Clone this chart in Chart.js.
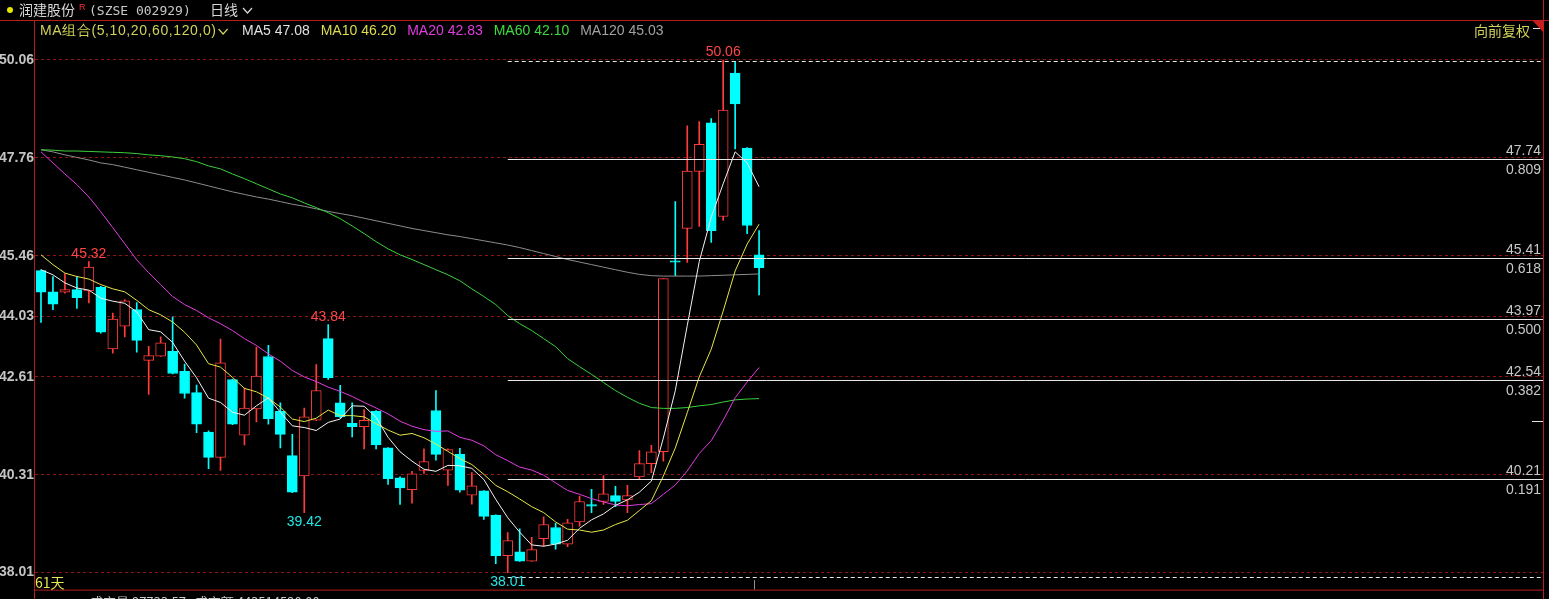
<!DOCTYPE html>
<html>
<head>
<meta charset="utf-8">
<script src="https://cdn.jsdelivr.net/npm/chart.js@4.4.0/dist/chart.umd.min.js"></script>
<style>
  html, body { margin: 0; padding: 0; background: #000; overflow: hidden; }
  canvas { display: block; }
</style>
</head>
<body>
<canvas id="kline" width="1549" height="599"></canvas>
<script>
'use strict';

/* ── Data ────────────────────────────────────────────── */
const SLOTS = 126;   // visible day slots on the x axis

const OPEN  = [45.11,44.61,44.60,44.66,44.63,44.72,43.27,43.80,44.19,43.00,
               43.10,43.21,42.74,42.24,41.31,40.72,42.55,41.24,41.86,43.09,
               41.80,40.76,40.28,41.59,43.51,42.00,41.52,41.44,41.80,40.94,
               40.24,39.96,40.41,41.82,40.42,40.79,39.83,39.93,39.36,38.41,
               38.50,38.28,38.81,39.07,38.68,39.20,39.61,39.68,39.82,39.72,
               40.26,40.57,40.85,45.34,46.10,47.44,48.58,46.38,49.75,47.99,45.48];
const HIGH  = [45.13,44.97,45.04,44.97,45.32,44.74,44.11,44.43,44.36,43.33,
               43.55,44.02,42.91,42.42,41.34,43.50,42.56,42.35,43.31,43.35,
               42.00,41.26,41.88,42.90,43.84,42.41,42.00,41.84,41.82,40.95,
               40.26,40.39,40.92,42.29,40.92,40.93,40.36,39.94,39.37,38.95,
               39.04,38.84,39.32,39.17,39.26,39.81,39.97,40.29,40.04,40.06,
               40.88,41.00,44.92,46.73,48.51,48.61,48.68,50.06,50.02,48.00,46.05];
const LOW   = [43.89,44.19,44.58,44.22,44.35,43.64,43.17,43.55,43.19,42.20,
               43.09,42.68,42.11,41.30,40.45,40.41,41.49,41.01,41.55,41.50,
               40.94,39.89,39.42,41.58,42.55,41.65,41.20,40.92,40.92,40.08,
               39.61,39.64,40.34,40.65,40.06,39.90,39.62,39.26,38.22,38.01,
               38.27,38.27,38.63,38.56,38.62,39.10,39.42,39.61,39.56,39.42,
               40.20,40.36,40.63,44.99,45.30,46.15,45.77,46.29,47.97,45.98,44.54];
const CLOSE = [44.60,44.32,44.66,44.47,45.19,43.66,43.97,44.40,43.47,43.11,
               43.41,42.69,42.22,41.50,40.72,42.94,41.50,41.88,42.63,41.63,
               41.26,39.90,41.67,42.29,42.59,41.67,41.44,41.59,41.01,40.22,
               40.00,40.33,40.62,40.79,40.90,39.95,40.05,39.33,38.40,38.76,
               38.28,38.55,39.14,38.68,39.18,39.68,39.57,39.86,39.68,39.82,
               40.57,40.85,44.92,45.31,47.45,48.08,46.05,48.88,49.03,46.17,45.18];

const MA5   = [45.13,45.01,44.82,44.70,44.65,44.46,44.39,44.34,44.14,43.72,
               43.67,43.42,42.98,42.59,42.11,42.01,41.78,41.71,41.93,42.12,
               41.78,41.46,41.42,41.35,41.54,41.62,41.93,41.92,41.66,41.19,
               40.85,40.63,40.44,40.39,40.53,40.52,40.46,40.20,39.73,39.30,
               38.96,38.66,38.63,38.68,38.77,39.05,39.25,39.39,39.59,39.72,
               39.90,40.16,41.17,42.29,43.82,45.32,46.36,47.15,47.90,47.64,47.08];
const MA10  = [45.48,45.25,45.05,44.97,44.91,44.78,44.68,44.61,44.41,44.19,
               44.07,43.90,43.66,43.36,42.92,42.84,42.60,42.34,42.26,42.11,
               41.90,41.62,41.56,41.64,41.83,41.70,41.70,41.67,41.51,41.36,
               41.24,41.28,41.18,41.03,40.86,40.69,40.55,40.32,40.06,39.91,
               39.74,39.56,39.42,39.20,39.03,39.01,38.96,39.01,39.14,39.24,
               39.47,39.70,40.28,40.94,41.77,42.61,43.26,44.16,45.10,45.73,46.20];
const MA20  = [47.90,47.64,47.38,47.13,46.84,46.49,46.12,45.74,45.36,45.06,
               44.78,44.50,44.31,44.17,44.00,43.86,43.70,43.51,43.35,43.15,
               42.98,42.76,42.61,42.50,42.37,42.27,42.15,42.01,41.88,41.74,
               41.57,41.45,41.37,41.33,41.34,41.19,41.12,40.99,40.78,40.64,
               40.49,40.42,40.30,40.12,39.94,39.85,39.75,39.67,39.60,39.58,
               39.61,39.63,39.85,40.07,40.40,40.81,41.11,41.59,42.12,42.49,42.83];
const MA60  = [47.95,47.94,47.92,47.92,47.91,47.90,47.89,47.88,47.86,47.83,
               47.81,47.78,47.74,47.67,47.57,47.50,47.38,47.27,47.15,47.03,
               46.91,46.82,46.70,46.59,46.47,46.33,46.16,45.98,45.79,45.62,
               45.48,45.37,45.25,45.13,45.01,44.87,44.68,44.50,44.31,44.05,
               43.86,43.70,43.51,43.32,43.04,42.85,42.67,42.48,42.29,42.13,
               41.99,41.89,41.87,41.87,41.89,41.93,41.96,42.02,42.07,42.09,42.10];
const MA120 = [47.95,47.90,47.83,47.77,47.71,47.64,47.60,47.54,47.48,47.42,
               47.36,47.30,47.24,47.17,47.10,47.03,46.96,46.90,46.84,46.79,
               46.73,46.67,46.62,46.56,46.50,46.45,46.40,46.34,46.28,46.22,
               46.16,46.10,46.05,46.00,45.95,45.91,45.86,45.81,45.76,45.71,
               45.65,45.58,45.51,45.44,45.37,45.31,45.25,45.19,45.13,45.07,
               45.02,44.99,44.98,44.98,44.98,44.98,44.99,45.00,45.01,45.02,45.03];

const MA_NAMES   = ['MA5', 'MA10', 'MA20', 'MA60', 'MA120'];
const MA_LEGEND  = ['47.08', '46.20', '42.83', '42.10', '45.03'];
const Y_TICKS    = [50.06, 47.76, 45.46, 44.03, 42.61, 40.31, 38.01];
const FIB_PRICE  = [47.74, 45.41, 43.97, 42.54, 40.21];
const FIB_RATIO  = ['0.809', '0.618', '0.500', '0.382', '0.191'];
const FIB_ENDS   = [50.06, 38.01];
const FIB_FROM   = 39;                       // day of the low the tool starts from
const PEAKS      = [[4, 45.32], [24, 43.84], [57, 50.06]];
const TROUGHS    = [[22, 39.42], [39, 38.01]];

/* ── Style ───────────────────────────────────────────── */
const UP = '#ff3b3b', DOWN = '#00ffff';
const MA_COLORS = ['#f2f2f2', '#e6e64c', '#e23ce2', '#3ad23a', '#8c8c8c'];
const LEG_COLORS = ['#e0e0e0', '#dcdc50', '#e03ce0', '#3cdc3c', '#a0a0a0'];
const FRAME = '#b41e1e';
const SANS = '"Liberation Sans", Arial, sans-serif';
const CJK = '"Noto Sans CJK SC", "Noto Sans", sans-serif';

const labels = Array.from({ length: SLOTS }, (_, i) => String(i));
const candleColor = CLOSE.map((c, i) => (c >= OPEN[i] ? UP : DOWN));

/* ── Decorations drawn through the chart's scales ────── */
const decor = {
  id: 'decor',
  beforeDraw(chart) {
    const { ctx, width, height } = chart;
    ctx.save();
    ctx.fillStyle = '#000';
    ctx.fillRect(0, 0, width, height);
    ctx.restore();
  },
  afterDraw(chart) {
    const { ctx, chartArea: a, scales: { x, y } } = chart;
    ctx.save();

    // fibonacci tool
    const x0 = x.getPixelForValue(FIB_FROM);
    ctx.strokeStyle = '#e8e8e8';
    ctx.lineWidth = 1;
    FIB_PRICE.forEach(p => {
      const py = Math.round(y.getPixelForValue(p)) + 0.5;
      ctx.beginPath(); ctx.moveTo(x0, py); ctx.lineTo(a.right, py); ctx.stroke();
    });
    ctx.setLineDash([4, 3]);
    FIB_ENDS.forEach((p, k) => {
      const py = Math.round(y.getPixelForValue(p)) + (k ? 4.5 : 1.5);
      ctx.beginPath(); ctx.moveTo(x0, py); ctx.lineTo(a.right, py); ctx.stroke();
    });
    ctx.setLineDash([]);

    ctx.font = '14px ' + SANS;
    ctx.fillStyle = '#c8c8c8';
    ctx.textAlign = 'right';
    FIB_PRICE.forEach((p, k) => {
      const py = Math.round(y.getPixelForValue(p));
      ctx.textBaseline = 'alphabetic';
      ctx.fillText(p.toFixed(2), a.right - 2, py - 4);
      ctx.fillText(FIB_RATIO[k], a.right - 2, py + 15);
    });

    // extreme price labels
    ctx.textAlign = 'center';
    ctx.fillStyle = '#ff4646';
    ctx.textBaseline = 'alphabetic';
    PEAKS.forEach(([i, v]) => {
      ctx.fillText(v.toFixed(2), x.getPixelForValue(i), y.getPixelForValue(v) - 4);
    });
    ctx.fillStyle = '#22e6e6';
    ctx.textBaseline = 'top';
    TROUGHS.forEach(([i, v]) => {
      ctx.fillText(v.toFixed(2), x.getPixelForValue(i), y.getPixelForValue(v) + 3);
    });

    // frame
    ctx.strokeStyle = FRAME;
    ctx.beginPath();
    ctx.moveTo(0, 20.5); ctx.lineTo(chart.width, 20.5);
    ctx.moveTo(a.left - 0.5, 20); ctx.lineTo(a.left - 0.5, chart.height);
    ctx.moveTo(a.right + 0.5, 0); ctx.lineTo(a.right + 0.5, chart.height);
    ctx.moveTo(a.left, a.bottom + 0.5); ctx.lineTo(a.right, a.bottom + 0.5);
    ctx.stroke();
    ctx.fillStyle = '#c81e1e';
    ctx.beginPath();
    ctx.moveTo(a.right - 11, 20); ctx.lineTo(a.right + 1, 20); ctx.lineTo(a.right + 1, 33);
    ctx.closePath(); ctx.fill();

    // title bar
    ctx.textAlign = 'left';
    ctx.textBaseline = 'alphabetic';
    ctx.fillStyle = '#e6e600';
    ctx.beginPath(); ctx.arc(10, 10, 3, 0, Math.PI * 2); ctx.fill();
    ctx.font = '14px ' + CJK;
    ctx.fillStyle = '#d8d8d8';
    ctx.fillText('润建股份', 19, 15);
    ctx.font = '9px ' + SANS;
    ctx.fillStyle = '#ff3030';
    ctx.fillText('R', 79, 10);
    ctx.font = '13px "DejaVu Sans Mono", monospace';
    ctx.fillStyle = '#c8c8c8';
    ctx.fillText('(SZSE 002929)', 89, 15);
    ctx.font = '14px ' + CJK;
    ctx.fillStyle = '#d8d8d8';
    ctx.fillText('日线', 210, 15);
    chevron(ctx, 243, 8, '#d8d8d8');

    // MA legend
    ctx.font = '14px ' + SANS;
    ctx.fillStyle = '#d2d25a';
    const head = 'MA组合(5,10,20,60,120,0)';
    ctx.letterSpacing = '0.6px';
    ctx.fillText(head, 40, 35);
    const headW = ctx.measureText(head).width;
    ctx.letterSpacing = '0px';
    chevron(ctx, 40 + headW + 2, 29, '#d2d25a');
    let lx = 242;
    MA_NAMES.forEach((n, k) => {
      const t = n + ' ' + MA_LEGEND[k];
      ctx.fillStyle = LEG_COLORS[k];
      ctx.fillText(t, lx, 35);
      lx += ctx.measureText(t).width + 11;
    });
    ctx.font = '14px ' + CJK;
    ctx.fillStyle = '#d2d25a';
    ctx.textAlign = 'right';
    ctx.fillText('向前复权', a.right - 13, 36);
    ctx.strokeStyle = '#e0e0e0';
    ctx.beginPath(); ctx.moveTo(a.right - 10, 28.5); ctx.lineTo(a.right - 3, 28.5); ctx.stroke();

    // bottom
    ctx.textAlign = 'left';
    ctx.fillStyle = '#e6e650';
    ctx.fillText('61天', a.left, 588);
    ctx.strokeStyle = '#909090';
    ctx.beginPath(); ctx.moveTo(754.5, 580); ctx.lineTo(754.5, a.bottom); ctx.stroke();
    ctx.fillStyle = '#c8c8c8';
    ctx.font = '13px ' + CJK;
    ctx.fillText('成交量 97733.57   成交额 443514520.00', 90, 607);
    ctx.strokeStyle = '#e0e0e0';
    ctx.beginPath(); ctx.moveTo(a.right - 11, 421.5); ctx.lineTo(a.right, 421.5); ctx.stroke();

    ctx.restore();
  }
};

function chevron(ctx, cx, cy, color) {
  ctx.save();
  ctx.strokeStyle = color;
  ctx.lineWidth = 1.2;
  ctx.beginPath();
  ctx.moveTo(cx, cy); ctx.lineTo(cx + 4.5, cy + 5); ctx.lineTo(cx + 9, cy);
  ctx.stroke();
  ctx.restore();
}

/* ── Chart ───────────────────────────────────────────── */
const maSets = [MA5, MA10, MA20, MA60, MA120].map((d, k) => ({
  type: 'line',
  label: MA_NAMES[k],
  data: d,
  borderColor: MA_COLORS[k],
  borderWidth: 1,
  pointRadius: 0,
  tension: 0,
  order: 0,
}));

new Chart(document.getElementById('kline'), {
  type: 'bar',
  data: {
    labels,
    datasets: [
      {
        label: 'wick',
        data: HIGH.map((h, i) => [LOW[i], h]),
        backgroundColor: candleColor,
        barThickness: 1,
        grouped: false,
        order: 3,
      },
      {
        label: 'body',
        data: OPEN.map((o, i) => [Math.min(o, CLOSE[i]), Math.max(o, CLOSE[i])]),
        backgroundColor: candleColor.map(c => (c === UP ? '#000' : DOWN)),
        borderColor: candleColor,
        borderWidth: 1,
        borderSkipped: false,
        barThickness: 10,
        grouped: false,
        order: 2,
      },
      ...maSets,
    ],
  },
  options: {
    responsive: false,
    animation: false,
    devicePixelRatio: 1,
    layout: { padding: { left: 0, top: 20, right: 6, bottom: 8 } },
    plugins: { legend: { display: false }, tooltip: { enabled: false } },
    scales: {
      x: { type: 'category', offset: true, display: false, grid: { display: false } },
      y: {
        position: 'left',
        min: 37.61,
        max: 51.0,
        afterFit(axis) { axis.width = 35; },
        afterBuildTicks(axis) { axis.ticks = Y_TICKS.map(v => ({ value: v })); },
        ticks: {
          color: '#c4c4c4',
          padding: 1,
          font: { family: 'Liberation Sans', size: 14, weight: 'bold' },
          callback: v => Number(v).toFixed(2),
        },
        grid: { color: '#8c1616', drawTicks: false },
        border: { display: false, dash: [3, 3] },
      },
    },
  },
  plugins: [decor],
});
</script>
</body>
</html>
